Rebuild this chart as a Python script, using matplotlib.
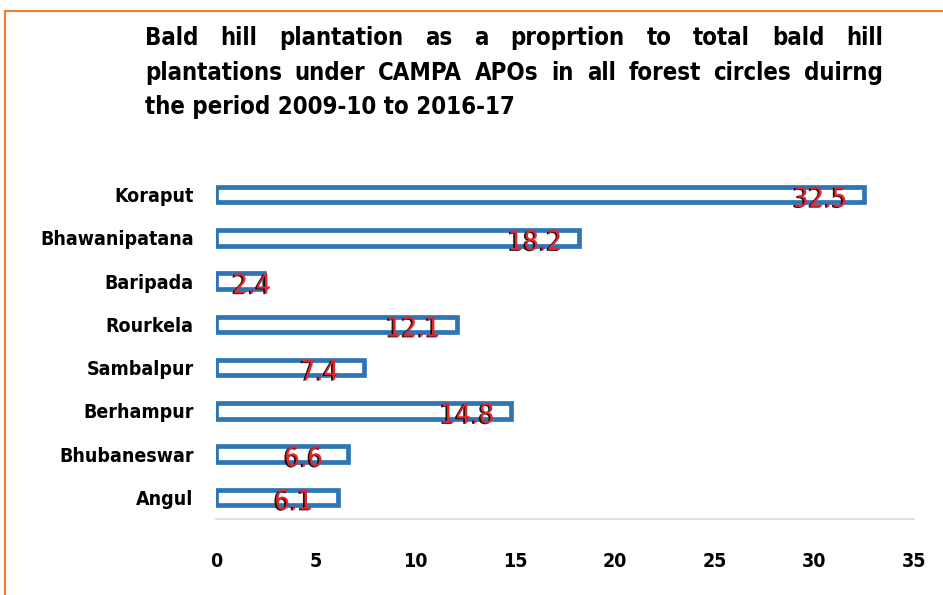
import matplotlib
matplotlib.use("Agg")
import matplotlib.pyplot as plt
import matplotlib.patheffects as pe
from matplotlib.lines import Line2D
from matplotlib import font_manager as fm

categories = ["Koraput", "Bhawanipatana", "Baripada", "Rourkela",
              "Sambalpur", "Berhampur", "Bhubaneswar", "Angul"]
values = [32.5, 18.2, 2.4, 12.1, 7.4, 14.8, 6.6, 6.1]
xticks = [0, 5, 10, 15, 20, 25, 30, 35]
title_lines = ["Bald hill plantation as a proprtion to total bald hill",
               "plantations under CAMPA APOs in all forest circles duirng",
               "the period 2009-10 to 2016-17"]

avail = {f.name for f in fm.fontManager.ttflist}
if "DejaVu Sans Condensed" in avail:
    FAM = ["DejaVu Sans Condensed", "DejaVu Sans"]
    STR = "normal"
else:
    FAM = ["DejaVu Sans"]
    STR = "condensed"

W, H = 943, 595
fig = plt.figure(figsize=(W / 100, H / 100), dpi=100)
ax = fig.add_axes([216 / W, 1 - 519 / H, (914 - 216) / W, (519 - 173) / H])

n = len(categories)
ypos = list(range(n))
ax.barh(ypos, values, height=0.36, color="white", edgecolor="#2E75B6", linewidth=3.4)
ax.set_ylim(n - 0.5, -0.5)
ax.set_xlim(0, 35)
ax.set_xticks(xticks)
ax.set_xticklabels([str(t) for t in xticks], fontsize=14, fontweight="bold",
                   family=FAM, stretch=STR)
ax.set_yticks(ypos)
ax.set_yticklabels(categories, fontsize=14, fontweight="bold", family=FAM, stretch=STR)
ax.tick_params(axis="x", length=0, pad=24)
ax.tick_params(axis="y", length=0, pad=16)
for s in ["top", "right", "left"]:
    ax.spines[s].set_visible(False)
ax.spines["bottom"].set_color("#D9D9D9")
ax.spines["bottom"].set_linewidth(1.2)

for y, v in zip(ypos, values):
    xl = max(v - 2.2, 1.8)
    ax.text(xl, y + 0.12, f"{v}", ha="center", va="center", fontsize=19.5,
            color="#E8232A", family=FAM, stretch=STR,
            path_effects=[pe.withSimplePatchShadow(offset=(-1.2, -0.6),
                                                   shadow_rgbFace="black", alpha=0.9)])

# Title (justified lines)
fig.canvas.draw()
renderer = fig.canvas.get_renderer()
x0, x1 = 145, 883
ys = [38, 73, 107]
TS = 17.2
for i, line in enumerate(title_lines):
    yf = 1 - ys[i] / H
    if i < 2:
        words = line.split(" ")
        arts = [fig.text(0, yf, w, fontsize=TS, fontweight="bold", family=FAM,
                         stretch=STR, va="center", ha="left") for w in words]
        widths = [a.get_window_extent(renderer).width for a in arts]
        gap = ((x1 - x0) - sum(widths)) / (len(words) - 1)
        x = x0
        for a, wd in zip(arts, widths):
            a.set_x(x / W)
            x += wd + gap
    else:
        fig.text(x0 / W, yf, line, fontsize=TS, fontweight="bold", family=FAM,
                 stretch=STR, va="center", ha="left")

# orange frame (left and top)
fig.add_artist(Line2D([5 / W, 5 / W], [0, 1 - 11 / H], transform=fig.transFigure,
                      color="#ED7D31", linewidth=1.5))
fig.add_artist(Line2D([5 / W, 1], [1 - 11 / H, 1 - 11 / H], transform=fig.transFigure,
                      color="#ED7D31", linewidth=1.5))

fig.savefig("out.png", dpi=100)
